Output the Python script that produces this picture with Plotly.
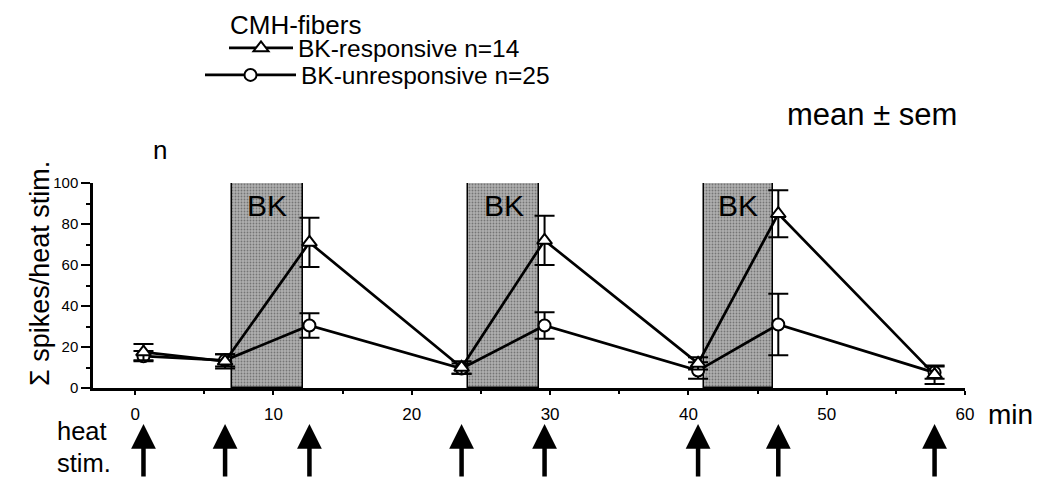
import plotly.graph_objects as go

# ---- data ----
times = [0.6, 6.5, 12.6, 23.6, 29.6, 40.7, 46.5, 57.8]
resp_mean = [17.5, 13, 71, 10, 72, 12, 85, 6.5]
resp_sem = [4, 3.5, 12, 3, 12, 3, 11.5, 4.5]
unresp_mean = [15.5, 13.5, 30.5, 9.5, 30.5, 8.5, 31, 7.5]
unresp_sem = [2.5, 3, 6, 2.5, 6.5, 4, 15, 3]
bk_start = [7.0, 24.1, 41.1]
bk_end = [12.1, 29.2, 46.1]
bk_level = [100, 100, 100]
stim_times = times
x_ticks = [0, 10, 20, 30, 40, 50, 60]
y_ticks = [0, 20, 40, 60, 80, 100]

FONT = "Liberation Sans, Arial, sans-serif"
W, H = 1039, 481
L, R, T, B = 93, 74, 183, 93
PW, PH = W - L - R, H - T - B


def px(xp):
    return (xp - L) / PW


def py(yp):
    return (H - B - yp) / PH


fig = go.Figure()

# BK application boxes
fig.add_trace(go.Bar(
    x=[(s + e) / 2 for s, e in zip(bk_start, bk_end)],
    y=bk_level,
    width=[e - s for s, e in zip(bk_start, bk_end)],
    base=0,
    marker=dict(color="#a8a8a8", line=dict(color="black", width=1.5),
                pattern=dict(shape=".", fgcolor="#3a3a3a", bgcolor="#b0b0b0",
                             size=3, solidity=0.3)),
    showlegend=False, hoverinfo="skip",
))

fig.add_trace(go.Scatter(
    x=times, y=unresp_mean, mode="lines+markers",
    name="BK-unresponsive n=25", legend="legend2",
    line=dict(color="black", width=2.7),
    marker=dict(symbol="circle", size=12, color="white",
                line=dict(color="black", width=2)),
    error_y=dict(type="data", array=unresp_sem, color="black",
                 thickness=2, width=10),
    cliponaxis=False,
))
fig.add_trace(go.Scatter(
    x=times, y=resp_mean, mode="lines+markers",
    name="BK-responsive n=14", legend="legend",
    line=dict(color="black", width=2.7),
    marker=dict(symbol="triangle-up", size=13, color="white",
                line=dict(color="black", width=2)),
    error_y=dict(type="data", array=resp_sem, color="black",
                 thickness=2, width=10),
    cliponaxis=False,
))


def note(xp, yp, text, size, **kw):
    d = dict(x=px(xp), y=py(yp), xref="paper", yref="paper", text=text,
             showarrow=False, xanchor="center", yanchor="middle",
             font=dict(size=size, color="black", family=FONT))
    d.update(kw)
    return d


annotations = []
for s, e in zip(bk_start, bk_end):
    annotations.append(dict(x=(s + e) / 2, xref="x", y=py(205), yref="paper",
                            text="BK", showarrow=False, yanchor="middle",
                            font=dict(size=30, color="black", family=FONT)))

for t in stim_times:
    annotations.append(dict(x=t, xref="x", y=py(424), yref="paper",
                            ax=0, ay=54, showarrow=True, arrowhead=2,
                            arrowsize=1.1, arrowwidth=4.5, arrowcolor="black",
                            text=""))

annotations += [
    note(228, 25, "CMH-fibers", 26, xanchor="left"),
    note(872, 115, "mean ± sem", 31),
    note(160, 150, "n", 26),
    note(1010, 414, "min", 28),
    note(55, 431, "heat", 25.5, xanchor="left"),
    note(55, 463, "stim.", 25.5, xanchor="left"),
    note(40, 274, "Σ spikes/heat stim.", 27, textangle=-90),
]

leg_common = dict(xanchor="left", yanchor="middle",
                  font=dict(size=24.5, family=FONT),
                  bgcolor="rgba(0,0,0,0)")

fig.update_layout(
    width=W, height=H,
    margin=dict(l=L, r=R, t=T, b=B, autoexpand=False),
    paper_bgcolor="white", plot_bgcolor="white",
    font=dict(family=FONT, color="black"),
    bargap=0,
    annotations=annotations,
    legend=dict(x=px(224), y=py(48), itemwidth=64, **leg_common),
    legend2=dict(x=px(200), y=py(75), itemwidth=91, **leg_common),
    xaxis=dict(
        range=[-3.05, 60], tickmode="array", tickvals=x_ticks,
        showline=True, linecolor="black", linewidth=2.5,
        ticks="outside", ticklen=4, tickwidth=2, tickcolor="black",
        minor=dict(dtick=5, ticks="outside", ticklen=3, tickwidth=1.5,
                   tickcolor="black"),
        tickfont=dict(size=17, family=FONT), ticklabelstandoff=5,
        showgrid=False, zeroline=False,
    ),
    yaxis=dict(
        range=[0, 100], tickmode="array", tickvals=y_ticks,
        showline=True, linecolor="black", linewidth=2.5,
        ticks="outside", ticklen=9, tickwidth=2, tickcolor="black",
        minor=dict(dtick=10, ticks="outside", ticklen=4, tickwidth=1.5,
                   tickcolor="black"),
        tickfont=dict(size=15, family=FONT),
        showgrid=False, zeroline=False,
    ),
)

fig.write_html(
    "out.html",
    config={"displayModeBar": False},
    post_script="document.body.style.margin='0px';"
                "document.body.style.overflow='hidden';",
)
